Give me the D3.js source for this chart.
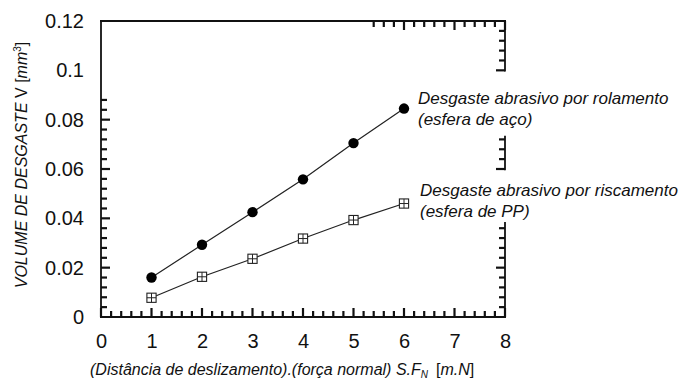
<!DOCTYPE html>
<html>
<head>
<meta charset="utf-8">
<script src="https://cdn.jsdelivr.net/npm/d3@7"></script>
<style>
  html, body { margin: 0; padding: 0; background: #fff; }
  svg { display: block; }
  text { font-family: "Liberation Sans", Arial, Helvetica, sans-serif; fill: #111; }
</style>
</head>
<body>
<svg id="chart" width="690" height="380"></svg>
<script>
// ---- data ----
const xValues = [1, 2, 3, 4, 5, 6];
const rolamento = [0.0160, 0.0293, 0.0425, 0.0558, 0.0705, 0.0845];
const riscamento = [0.0078, 0.0163, 0.0236, 0.0318, 0.0393, 0.0460];
const xTickValues = [0, 1, 2, 3, 4, 5, 6, 7, 8];
const xTickLabels = ["0", "1", "2", "3", "4", "5", "6", "7", "8"];
const yTickValues = [0, 0.02, 0.04, 0.06, 0.08, 0.1, 0.12];
const yTickLabels = ["0", "0.02", "0.04", "0.06", "0.08", "0.1", "0.12"];
const seriesNames = [
  ["Desgaste abrasivo por rolamento", "(esfera de aço)"],
  ["Desgaste abrasivo por riscamento", "(esfera de PP)"]
];

const svg = d3.select("#chart");
const x = d3.scaleLinear().domain([0, 8]).range([101, 505]);
const y = d3.scaleLinear().domain([0, 0.12]).range([317, 21]);

const xMinor = d3.range(0, 41).map(i => i * 0.2);
const yMinor = d3.range(0, 31).map(i => i * 0.004);
const isMaj = i => i % 5 === 0;
const MAJ = 9, MIN = 6;
const ink = "#111";

const ticks = svg.append("g").attr("stroke", ink).attr("stroke-width", 2.2);
// bottom ticks: all
ticks.append("g").selectAll("line").data(xMinor.map((d, i) => [d, i])).join("line")
  .attr("x1", p => x(p[0])).attr("x2", p => x(p[0]))
  .attr("y1", y(0)).attr("y2", p => y(0) - (isMaj(p[1]) ? MAJ : MIN));
// top ticks: only from 5.4 on
ticks.append("g").selectAll("line").data(xMinor.map((d, i) => [d, i]).filter(p => p[0] >= 5.39)).join("line")
  .attr("x1", p => x(p[0])).attr("x2", p => x(p[0]))
  .attr("y1", y(0.12)).attr("y2", p => y(0.12) + (isMaj(p[1]) ? MAJ : MIN));
// left ticks: only up to 0.088
ticks.append("g").selectAll("line").data(yMinor.map((d, i) => [d, i]).filter(p => p[0] <= 0.0881 && p[1] > 0)).join("line")
  .attr("y1", p => y(p[0])).attr("y2", p => y(p[0]))
  .attr("x1", x(0)).attr("x2", p => x(0) + (isMaj(p[1]) ? MAJ : MIN));
// right ticks: segments interrupted by the labels
const rightVisible = v => (v >= 0.0999 && v <= 0.1161) || (v >= 0.0599 && v <= 0.0721) || (v >= 0.0039 && v <= 0.0361);
ticks.append("g").selectAll("line").data(yMinor.map((d, i) => [d, i]).filter(p => rightVisible(p[0]))).join("line")
  .attr("y1", p => y(p[0])).attr("y2", p => y(p[0]))
  .attr("x1", x(8)).attr("x2", p => x(8) - (isMaj(p[1]) ? MAJ : MIN));

// frame
const frame = svg.append("g").attr("stroke", ink).attr("fill", "none");
frame.append("line").attr("x1", x(0) - 1).attr("x2", x(8) + 1).attr("y1", y(0)).attr("y2", y(0)).attr("stroke-width", 2.2);
frame.append("line").attr("x1", x(0) - 1).attr("x2", x(8) + 1).attr("y1", y(0.12)).attr("y2", y(0.12)).attr("stroke-width", 2.2);
frame.append("line").attr("x1", x(0)).attr("x2", x(0)).attr("y1", y(0)).attr("y2", y(0.12)).attr("stroke-width", 1.8);
const rightSegs = [[0.0995, 0.12], [0.0595, 0.0735], [0, 0.0385]];
frame.append("g").selectAll("line").data(rightSegs).join("line")
  .attr("x1", x(8)).attr("x2", x(8)).attr("y1", d => y(d[0])).attr("y2", d => y(d[1])).attr("stroke-width", 1.8);

// tick labels
const xl = svg.append("g").attr("transform", `translate(0,${y(0)})`)
  .call(d3.axisBottom(x).tickValues(xTickValues).tickSize(0).tickPadding(17)
    .tickFormat((d, i) => xTickLabels[i]));
xl.select(".domain").remove();
xl.selectAll("text").attr("font-size", 20).attr("font-family", "Liberation Sans, Arial, sans-serif").attr("fill", ink);

const yl = svg.append("g").attr("transform", `translate(${x(0)},0)`)
  .call(d3.axisLeft(y).tickValues(yTickValues).tickSize(0).tickPadding(17)
    .tickFormat((d, i) => yTickLabels[i]));
yl.select(".domain").remove();
yl.selectAll("text").attr("font-size", 20).attr("font-family", "Liberation Sans, Arial, sans-serif").attr("fill", ink);

// lines
const line = d3.line().x((d, i) => x(xValues[i])).y(d => y(d));
svg.append("path").datum(rolamento).attr("d", line).attr("fill", "none").attr("stroke", "#222").attr("stroke-width", 1.2);
svg.append("path").datum(riscamento).attr("d", line).attr("fill", "none").attr("stroke", "#222").attr("stroke-width", 1.2);

// markers
svg.append("g").selectAll("circle").data(rolamento).join("circle")
  .attr("cx", (d, i) => x(xValues[i])).attr("cy", d => y(d)).attr("r", 5.2).attr("fill", "#000");
const sq = svg.append("g").selectAll("g").data(riscamento).join("g")
  .attr("transform", (d, i) => `translate(${x(xValues[i])},${y(d)})`);
const h = 4.6;
sq.append("rect").attr("x", -h).attr("y", -h).attr("width", 2 * h).attr("height", 2 * h)
  .attr("fill", "#fff").attr("stroke", "#222").attr("stroke-width", 1.1);
sq.append("line").attr("x1", -h).attr("x2", h).attr("y1", 0).attr("y2", 0).attr("stroke", "#222").attr("stroke-width", 1);
sq.append("line").attr("x1", 0).attr("x2", 0).attr("y1", -h).attr("y2", h).attr("stroke", "#222").attr("stroke-width", 1);

// series labels
const lab = [[418, 104], [420, 196]];
seriesNames.forEach((lines, k) => {
  const t = svg.append("text").attr("x", lab[k][0]).attr("y", lab[k][1])
    .attr("font-size", 17).attr("font-style", "italic");
  lines.forEach((s, j) => t.append("tspan").attr("x", lab[k][0]).attr("dy", j === 0 ? 0 : 21).text(s));
});

// x axis title
const xt = svg.append("text").attr("x", 90).attr("y", 375).attr("font-size", 16).attr("font-style", "italic");
xt.append("tspan").text("(Distância de deslizamento).(força normal) S.F");
xt.append("tspan").attr("font-size", 10).attr("dy", 3).text("N");
xt.append("tspan").attr("dy", -3).attr("font-style", "normal").text("\u2002[");
xt.append("tspan").text("m.N");
xt.append("tspan").attr("font-style", "normal").text("]");

// y axis title
const yt = svg.append("text").attr("transform", "translate(27,165) rotate(-90)")
  .attr("text-anchor", "middle").attr("font-size", 16);
yt.append("tspan").attr("font-style", "italic").text("VOLUME DE DESGASTE ");
yt.append("tspan").text("V [");
yt.append("tspan").attr("font-style", "italic").text("mm");
yt.append("tspan").attr("font-size", 10).attr("dy", -6).text("3");
yt.append("tspan").attr("dy", 6).text("]");
</script>
</body>
</html>
